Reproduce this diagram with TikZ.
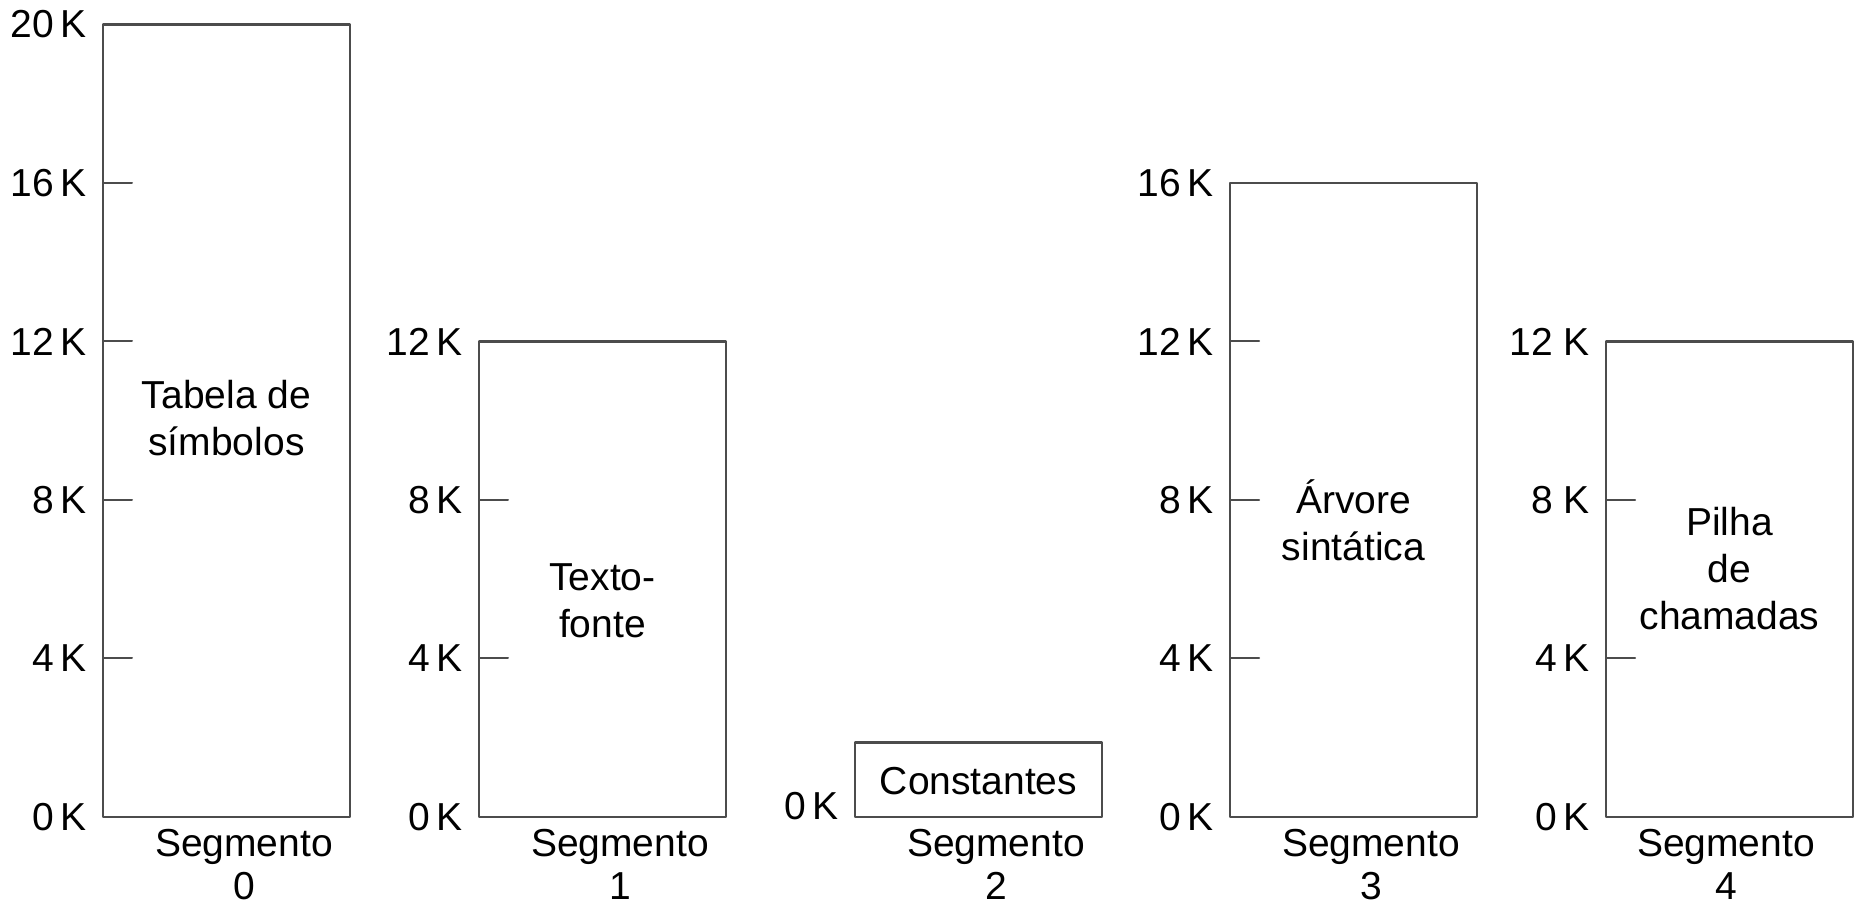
\documentclass[tikz,border=0pt]{standalone}
\usepackage{fontspec}
\setmainfont{Liberation Sans}
\usetikzlibrary{positioning}

\begin{document}
\begin{tikzpicture}[x=0.5pt, y=19.8125pt, line cap=round, line join=round,
    every node/.style={font=\fontsize{19.5}{23.5}\selectfont},
    seg/.style={draw=black!70, line width=1.1pt},
    tick/.style={draw=black!70, line width=1pt},
    ticklbl/.style={anchor=east, inner sep=0pt, xshift=-8pt},
    txt/.style={align=center, inner sep=0pt},
    caption/.style={txt, anchor=north, font=\fontsize{19.5}{21.5}\selectfont}]

    % Parámetros
    \def\W{247}   % ancho de cada segmento
    \def\T{29}    % largo de las marcas

    % --- Marco de la imagen ---
    \useasboundingbox (0,-2.246) rectangle (1854,20.618);

    % --- Segmentos y marcas cada 4K ---
    \foreach \x/\top in {103/20, 479/12, 855/1.88, 1230/16, 1606/12} {
        \draw[seg] (\x,0) rectangle ++(\W,\top);
        \foreach \k in {4,8,12,16} {
            \ifdim \k pt<\top pt
                \draw[tick] (\x,\k) -- ++(\T,0);
            \fi
        }
    }

    % --- Escalas ---
    \foreach \k in {0,4,...,20} \node[ticklbl] (s0-\k) at (103,\k) {\k\,K};
    \foreach \k in {0,4,8,12} \node[ticklbl] (s1-\k) at (479,\k) {\k\,K};
    \node[ticklbl] (s2-0) at (855,0.28) {0\,K};
    \foreach \k in {0,4,...,16} \node[ticklbl] (s3-\k) at (1230,\k) {\k\,K};
    \foreach \k/\t in {0/0\,K, 4/4\,K, 8/8 K, 12/12 K} \node[ticklbl] (s4-\k) at (1606,\k) {\t};

    % --- Contenido de los segmentos ---
    \node[txt] (tabela) at (226.5,10.07) {Tabela de\\símbolos};
    \node[txt] (texto)  at (602.5,5.45)  {Texto-\\fonte};
    \node[txt] (const)  at (978.5,0.91)  {Constantes};
    \node[txt] (arvore) at (1353.5,7.5)  {Árvore\\sintática};
    \node[txt] (pilha)  at (1729.5,6.26) {Pilha\\de\\chamadas};

    % --- Nombres de los segmentos ---
    \foreach \x/\n in {244/0, 620/1, 996/2, 1371/3, 1726/4}
        \node[caption] (seg\n) at (\x,-0.30) {Segmento\\\n};

\end{tikzpicture}
\end{document}
